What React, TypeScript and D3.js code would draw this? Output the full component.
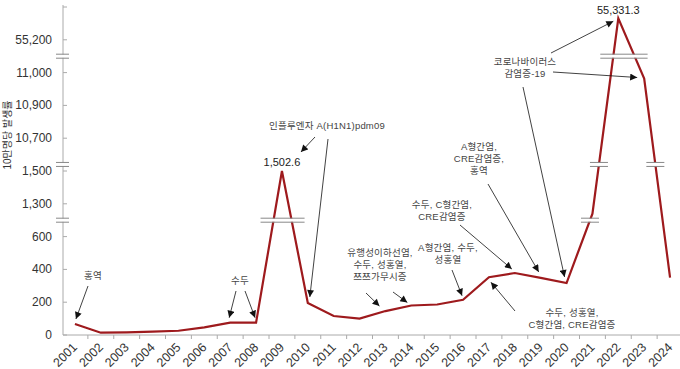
import { useMemo } from "react";
import * as d3 from "d3";

const WIDTH = 680;
const HEIGHT = 369;
const FONT = "'Liberation Sans', Arial, 'Noto Sans CJK KR', sans-serif";

// categories and series
const years = [
  "2001", "2002", "2003", "2004", "2005", "2006", "2007", "2008",
  "2009", "2010", "2011", "2012", "2013", "2014", "2015", "2016",
  "2017", "2018", "2019", "2020", "2021", "2022", "2023", "2024",
];
const rates = [
  67, 14, 16, 20, 26, 47, 75, 75,
  1502.6, 195, 116, 100, 146, 180, 186, 215,
  352, 378, 348, 317, 1090, 55331.3, 10982, 350,
];

// broken y axis: tick values sit at equal steps
const tickValues = [0, 200, 400, 600, 1300, 1500, 10700, 10900, 11000, 55200, 55400];
const tickLabels = ["0", "200", "400", "600", "1,300", "1,500", "10,700", "10,900", "11,000", "55,200", ""];
const breakSteps = [3.5, 5.2, 8.5];
// the original leaves this crossing unmarked
const unmarked = [{ step: 3.5, year: "2023" }];

const valueLabels = [
  { year: "2009", text: "1,502.6", dy: -5 },
  { year: "2022", text: "55,331.3", dy: -4 },
];

type Arrow = { from: [number, number]; year: string; dx: number; dy: number };
type Note = { lines: string[]; x: number; y: number; arrows: Arrow[] };

const notes: Note[] = [
  { lines: ["홍역"], x: 93, y: 279, arrows: [{ from: [88, 286], year: "2001", dx: 1, dy: -5 }] },
  {
    lines: ["수두"], x: 240, y: 284,
    arrows: [
      { from: [236, 291], year: "2007", dx: -1, dy: -5 },
      { from: [245, 291], year: "2008", dx: -1, dy: -5 },
    ],
  },
  {
    lines: ["인플루엔자 A(H1N1)pdm09"], x: 327, y: 129,
    arrows: [
      { from: [315, 137], year: "2009", dx: 19, dy: -19 },
      { from: [328, 139], year: "2010", dx: 2, dy: -6 },
    ],
  },
  {
    lines: ["유행성이하선염,", "수두, 성홍열,", "쯔쯔가무시증"], x: 380, y: 256,
    arrows: [
      { from: [366, 293], year: "2013", dx: -6, dy: -5 },
      { from: [393, 292], year: "2014", dx: -4, dy: -3 },
    ],
  },
  {
    lines: ["A형간염, 수두,", "성홍열"], x: 448, y: 251,
    arrows: [{ from: [452, 270], year: "2016", dx: -1, dy: -4 }],
  },
  {
    lines: ["수두, C형간염,", "CRE감염증"], x: 442, y: 208,
    arrows: [{ from: [460, 225], year: "2018", dx: -3, dy: -4 }],
  },
  {
    lines: ["A형간염,", "CRE감염증,", "홍역"], x: 479, y: 150,
    arrows: [{ from: [488, 184], year: "2019", dx: -2, dy: -6 }],
  },
  {
    lines: ["코로나바이러스", "감염증-19"], x: 525, y: 65,
    arrows: [
      { from: [551, 53], year: "2022", dx: -5, dy: 3 },
      { from: [553, 72], year: "2023", dx: -7, dy: -1 },
      { from: [523, 87], year: "2020", dx: -2, dy: -6 },
    ],
  },
  {
    lines: ["수두, 성홍열,", "C형간염, CRE감염증"], x: 572, y: 316,
    arrows: [{ from: [515, 311], year: "2017", dx: 2, dy: 5 }],
  },
];

const App = () => {
  const xScale = useMemo(
    () => d3.scaleBand().domain(years).range([62, 683]),
    []
  );
  const stepScale = useMemo(
    () => d3.scaleLinear().domain(tickValues).range(tickValues.map((_, i) => i)),
    []
  );
  const pixScale = useMemo(
    () => d3.scaleLinear().domain([0, tickValues.length - 1]).range([335, 7]),
    []
  );
  const xc = (yr: string) => (xScale(yr) ?? 0) + xScale.bandwidth() / 2;
  const yv = (v: number) => pixScale(stepScale(v));

  const linePath = d3
    .line<number>()
    .x((_, i) => xc(years[i]))
    .y((d) => yv(d))(rates);

  // where the line passes a break, put a double-line mark on it
  const lineBreaks: { y: number; x1: number; x2: number }[] = [];
  breakSteps.forEach((b) => {
    const py = pixScale(b);
    const xs: number[] = [];
    for (let i = 0; i < rates.length - 1; i++) {
      if (unmarked.some((u) => u.step === b && u.year === years[i])) continue;
      const y0 = yv(rates[i]);
      const y1 = yv(rates[i + 1]);
      if ((y0 - py) * (y1 - py) < 0) {
        const x0 = xc(years[i]);
        const x1 = xc(years[i + 1]);
        xs.push(x0 + ((py - y0) / (y1 - y0)) * (x1 - x0));
      }
    }
    let group: number[] = [];
    const flush = () => {
      if (!group.length) return;
      const pad = group.length > 1 ? 13 : 9;
      lineBreaks.push({ y: py, x1: d3.min(group)! - pad, x2: d3.max(group)! + pad });
      group = [];
    };
    xs.forEach((x) => {
      if (group.length && x - group[group.length - 1] > 45) flush();
      group.push(x);
    });
    flush();
  });

  const breakMark = (y: number, x1: number, x2: number, key: string) => (
    <g key={key}>
      <rect x={x1} y={y - 1.6} width={x2 - x1} height={3.2} fill="#fff" />
      <line x1={x1} x2={x2} y1={y - 2} y2={y - 2} stroke="#888" strokeWidth={1} />
      <line x1={x1} x2={x2} y1={y + 2} y2={y + 2} stroke="#888" strokeWidth={1} />
    </g>
  );

  const xTicks = years.slice(1).map((yr) => xScale(yr) ?? 0);

  return (
    <svg
      width={WIDTH}
      height={HEIGHT}
      style={{ position: "absolute", left: 0, top: 0, background: "#fff" }}
      fontFamily={FONT}
    >
      <defs>
        <marker
          id="ah"
          viewBox="0 0 10 10"
          refX={10}
          refY={5}
          markerWidth={8}
          markerHeight={7}
          markerUnits="userSpaceOnUse"
          orient="auto"
        >
          <path d="M0,0 L10,5 L0,10 z" fill="#111" />
        </marker>
      </defs>

      {/* y axis */}
      <line x1={63} x2={63} y1={pixScale(tickValues.length - 1) - 2} y2={335} stroke="#aaa" />
      {tickValues.map((v, i) => (
        <g key={v}>
          <line x1={63} x2={67} y1={pixScale(i)} y2={pixScale(i)} stroke="#aaa" />
          <text
            x={52}
            y={pixScale(i)}
            textAnchor="end"
            dominantBaseline="central"
            fontSize={12}
            fill="#333"
          >
            {tickLabels[i]}
          </text>
        </g>
      ))}
      {breakSteps.map((b, i) => breakMark(pixScale(b), 56, 69, `yb${i}`))}
      <text
        transform="translate(11,135) rotate(-90)"
        textAnchor="middle"
        fontSize={10}
        fill="#333"
      >
        10만명당 발생률
      </text>

      {/* x axis */}
      <line x1={63} x2={WIDTH} y1={335} y2={335} stroke="#aaa" />
      {xTicks.map((t, i) => (
        <line key={i} x1={t} x2={t} y1={335} y2={339} stroke="#aaa" />
      ))}
      {years.map((yr) => (
        <text
          key={yr}
          transform={`translate(${xc(yr) + 3},348) rotate(-45)`}
          textAnchor="end"
          fontSize={12.5}
          fill="#333"
        >
          {yr}
        </text>
      ))}

      {/* series */}
      <path d={linePath ?? ""} fill="none" stroke="#9e1a1d" strokeWidth={2.2} strokeLinejoin="miter" />
      {lineBreaks.map((b, i) => breakMark(b.y, b.x1, b.x2, `lb${i}`))}

      {valueLabels.map((l) => {
        const i = years.indexOf(l.year);
        return (
          <text
            key={l.year}
            x={xc(l.year)}
            y={yv(rates[i]) + l.dy}
            textAnchor="middle"
            fontSize={11}
            fill="#222"
          >
            {l.text}
          </text>
        );
      })}

      {/* annotations */}
      {notes.map((n, ni) => (
        <g key={ni}>
          {n.lines.map((s, li) => (
            <text
              key={li}
              x={n.x}
              y={n.y + li * 12}
              textAnchor="middle"
              fontSize={9.5}
              letterSpacing={0.2}
              fill="#444"
            >
              {s}
            </text>
          ))}
          {n.arrows.map((a, ai) => {
            const i = years.indexOf(a.year);
            return (
              <line
                key={ai}
                x1={a.from[0]}
                y1={a.from[1]}
                x2={xc(a.year) + a.dx}
                y2={yv(rates[i]) + a.dy}
                stroke="#111"
                strokeWidth={0.8}
                markerEnd="url(#ah)"
              />
            );
          })}
        </g>
      ))}
    </svg>
  );
};

export default App;
